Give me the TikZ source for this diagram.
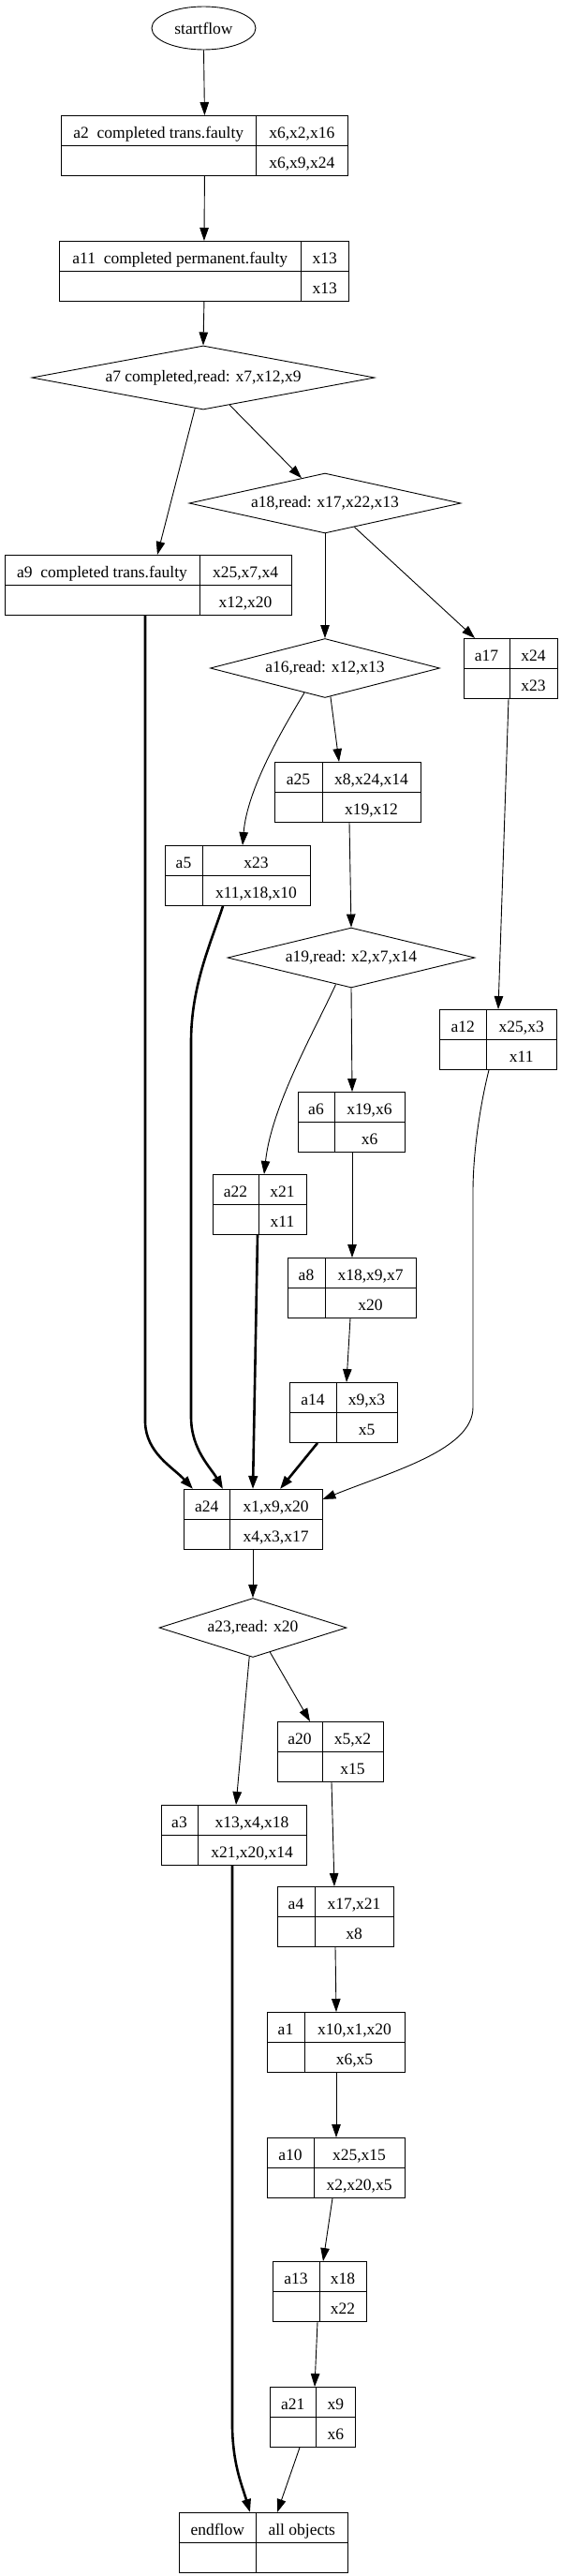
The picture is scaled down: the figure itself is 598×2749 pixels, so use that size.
\documentclass[tikz,border=0pt]{standalone}
\usepackage{fontspec}
\setmainfont{Liberation Serif}
\usetikzlibrary{arrows.meta,shapes.geometric}
\newcommand{\recnode}[7]{%
  \node[recbox,minimum width={#3pt+#4pt},anchor=north west] (#1) at #2 {};
  \draw ([xshift=#3pt]#1.north west) -- ([xshift=#3pt]#1.south west);
  \draw (#1.west) -- (#1.east);
  \node[cell] at ([xshift=#3*0.5pt,yshift=-24.5pt]#1.north west) {#5};
  \node[cell] at ([xshift=#3pt+#4*0.5pt,yshift=-24.5pt]#1.north west) {#6};
  \node[cell] at ([xshift=#3pt+#4*0.5pt,yshift=-56.5pt]#1.north west) {#7};
}

\begin{document}
\begin{tikzpicture}[x=1pt,y=-1pt,>={Triangle[length=14pt,width=9.5pt]},line width=0.9pt,
    font=\fontsize{17.5}{20}\selectfont,
    recbox/.style={draw,rectangle,inner sep=0pt,minimum height=64pt},
    cell/.style={inner sep=0pt,anchor=base},
    cond/.style={draw,diamond,inner sep=0pt,aspect=4},
    heavy/.style={line width=2.6pt}]
  \useasboundingbox (0,0) rectangle (598,2749);
  \node[draw,ellipse,inner sep=0pt,minimum width=111pt,minimum height=46pt] (startflow) at (217.5,30) {startflow};
  \recnode{a2}{(65,123)}{208.5}{97.5}{a2~~completed trans.faulty}{x6,x2,x16}{x6,x9,x24}
  \recnode{a11}{(63,257)}{258.5}{50.5}{a11~~completed permanent.faulty}{x13}{x13}
  \node[cond,minimum width=366pt,minimum height=63pt] (a7) at (217,403) {a7 completed,read: x7,x12,x9};
  \recnode{a9}{(5,592)}{208}{98}{a9~~completed trans.faulty}{x25,x7,x4}{x12,x20}
  \node[cond,minimum width=290pt,minimum height=64pt] (a18) at (347,537) {a18,read: x17,x22,x13};
  \node[cond,minimum width=245pt,minimum height=63pt] (a16) at (347,713) {a16,read: x12,x13};
  \recnode{a17}{(495,681)}{49}{51}{a17}{x24}{x23}
  \recnode{a25}{(293,813)}{51}{105}{a25}{x8,x24,x14}{x19,x12}
  \recnode{a5}{(176,902)}{40}{115}{a5}{x23}{x11,x18,x10}
  \node[cond,minimum width=264pt,minimum height=64pt] (a19) at (375,1022) {a19,read: x2,x7,x14};
  \recnode{a12}{(469,1077)}{50.5}{74.5}{a12}{x25,x3}{x11}
  \recnode{a6}{(318,1165)}{39}{75}{a6}{x19,x6}{x6}
  \recnode{a22}{(227,1253)}{49}{51}{a22}{x21}{x11}
  \recnode{a8}{(307,1342)}{40}{97}{a8}{x18,x9,x7}{x20}
  \recnode{a14}{(309,1475)}{50}{65}{a14}{x9,x3}{x5}
  \recnode{a24}{(196,1589)}{49.5}{98}{a24}{x1,x9,x20}{x4,x3,x17}
  \node[cond,minimum width=200pt,minimum height=63pt] (a23) at (270,1737) {a23,read: x20};
  \recnode{a20}{(296,1837)}{48}{65}{a20}{x5,x2}{x15}
  \recnode{a3}{(172,1926)}{39}{116}{a3}{x13,x4,x18}{x21,x20,x14}
  \recnode{a4}{(296,2013)}{40}{84}{a4}{x17,x21}{x8}
  \recnode{a1}{(285,2147)}{40}{107}{a1}{x10,x1,x20}{x6,x5}
  \recnode{a10}{(285,2281)}{50}{97}{a10}{x25,x15}{x2,x20,x5}
  \recnode{a13}{(291,2413)}{50}{50}{a13}{x18}{x22}
  \recnode{a21}{(288,2547)}{49.5}{41.5}{a21}{x9}{x6}
  \recnode{endflow}{(191,2681)}{82.5}{97.5}{endflow}{all objects}{}

  \draw[->] (startflow.south) -- (a2.north);
  \draw[->] (a2.south) -- (a11.north);
  \draw[->] (a11.south) -- (a7.north);
  \draw[->] (a7.255) -- ([xshift=163pt]a9.north west);
  \draw[->] (a7.314) -- (a18.133);
  \draw[->] (a18.south) -- (a16.north);
  \draw[->] (a18.321) -- ([xshift=12pt]a17.north west);
  \draw[->] (a16.281) -- ([xshift=69pt]a25.north west);
  \draw[->] (a16.230) .. controls +(-24,40) and +(5,-60) .. ([xshift=83pt]a5.north west);
  \draw[->] ([xshift=48pt]a17.south west) -- ([xshift=63pt]a12.north west);
  \draw[->] ([xshift=80pt]a25.south west) -- (a19.north);
  \draw[->] (a19.south) -- ([xshift=58pt]a6.north west);
  \draw[->] (a19.240) .. controls +(-23,50) and +(8,-73) .. ([xshift=55pt]a22.north west);
  \draw[->] ([xshift=58pt]a6.south west) -- ([xshift=69pt]a8.north west);
  \draw[->] ([xshift=67pt]a8.south west) -- ([xshift=61pt]a14.north west);
  \draw[->,heavy] ([xshift=150pt]a9.south west) -- ++(0,861) .. controls +(1,33) and +(-21,-23) .. ([xshift=10pt]a24.north west);
  \draw[->,heavy] ([xshift=62pt]a5.south west) .. controls +(-13,40) and +(0,-60) .. ++(-34,145) -- ++(0,400) .. controls +(0,35) and +(-13,-23) .. ([xshift=42pt]a24.north west);
  \draw[->,heavy] ([xshift=48pt]a22.south west) -- ([xshift=74pt]a24.north west);
  \draw[->,heavy] ([xshift=30pt]a14.south west) -- ([xshift=103pt]a24.north west);
  \draw[->] ([xshift=53pt]a12.south west) .. controls +(-10,40) and +(0,-40) .. ++(-17,130) -- ++(0,230) .. controls +(0,45) and +(75,-30) .. ([yshift=-11pt]a24.north east);
  \draw[->] ([xshift=74pt]a24.south west) -- (a23.north);
  \draw[->] (a23.263) -- ([xshift=80pt]a3.north west);
  \draw[->] (a23.305) -- ([xshift=35pt]a20.north west);
  \draw[->] ([xshift=58pt]a20.south west) -- ([xshift=61pt]a4.north west);
  \draw[->,heavy] ([xshift=76pt]a3.south west) -- ++(0,600) .. controls +(1,40) and +(-9,-30) .. ([xshift=76pt]endflow.north west);
  \draw[->] ([xshift=62pt]a4.south west) -- ([xshift=74pt]a1.north west);
  \draw[->] ([xshift=74pt]a1.south west) -- ([xshift=74pt]a10.north west);
  \draw[->] ([xshift=70pt]a10.south west) -- ([xshift=54pt]a13.north west);
  \draw[->] ([xshift=48pt]a13.south west) -- ([xshift=48pt]a21.north west);
  \draw[->] ([xshift=32pt]a21.south west) -- ([xshift=105pt]endflow.north west);
\end{tikzpicture}
\end{document}
